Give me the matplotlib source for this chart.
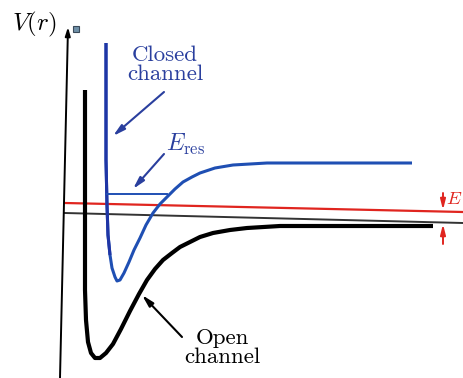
import matplotlib
matplotlib.use("Agg")
import matplotlib.pyplot as plt

# --- Datos (coordenadas en píxeles, y hacia abajo) ---
closed_r = [106, 106, 106, 107, 108, 110, 112, 115, 117, 120, 124, 129, 134, 140,
            146, 153, 160, 167, 175, 183, 192, 200, 215, 233, 267, 320, 412]
closed_v = [43, 100, 160, 205, 235, 255, 268, 277, 281, 280, 273, 262, 250, 238,
            225, 213, 204, 197, 189, 182, 177, 173, 168, 165, 163, 163, 163]

open_r = [85, 85, 85, 86, 88, 91, 95, 100, 106, 113, 121, 130, 139, 147, 155,
          163, 172, 180, 190, 200, 213, 230, 247, 280, 333, 433]
open_v = [90, 200, 290, 320, 342, 353, 358, 358, 353, 344, 329, 311, 294, 280, 269,
          260, 253, 247, 242, 237, 233, 230, 228, 226, 226, 226]

eres_r = [107, 167]
eres_v = [194, 194]

red_r = [65, 463]
red_v = [203, 212]

cero_r = [65, 463]
cero_v = [213, 223]

AZUL = "#1f4fb3"
AZUL_PARED = "#1f35a5"
AZUL_TXT = "#2a3f9e"
ROJO = "#e0251f"

plt.rcParams["mathtext.fontset"] = "cm"

fig = plt.figure(figsize=(4.63, 3.78), dpi=100)
ax = fig.add_axes([0, 0, 1, 1])
ax.set_xlim(0, 463)
ax.set_ylim(378, 0)
ax.axis("off")

# eje vertical con flecha
ax.annotate("", xy=(68, 27), xytext=(60, 378),
            arrowprops=dict(arrowstyle="-|>,head_length=0.5,head_width=0.15",
                            color="black", lw=1.4, shrinkA=0, shrinkB=0))
ax.plot([76], [29], marker="s", ms=5, mfc="#6f90a8", mec="#3a4a5a", mew=0.8)
ax.text(34, 24, r"$V(r)$", fontsize=18, ha="center", va="center")

# líneas horizontales
ax.plot(cero_r, cero_v, color="#333333", lw=1.4)
ax.plot(red_r, red_v, color=ROJO, lw=1.6)

# potenciales
ax.plot(open_r, open_v, color="black", lw=3.0, solid_capstyle="butt",
        solid_joinstyle="round")
ax.plot(closed_r, closed_v, color=AZUL, lw=2.2, solid_capstyle="butt",
        solid_joinstyle="round")
ax.plot(closed_r[:6], closed_v[:6], color=AZUL_PARED, lw=2.2,
        solid_capstyle="butt")
ax.plot(eres_r, eres_v, color=AZUL, lw=1.4)

# textos y flechas
flecha = dict(arrowstyle="-|>,head_length=0.7,head_width=0.18", lw=1.5,
              shrinkA=0, shrinkB=0)
ax.text(165, 65, "Closed\nchannel", color=AZUL_TXT, fontsize=16.5,
        family="cmr10", ha="center", va="center", linespacing=0.95)
ax.annotate("", xy=(113, 136), xytext=(164, 92),
            arrowprops=dict(flecha, color=AZUL_TXT))
ax.text(166, 144, r"$E_{\rm res}$", color=AZUL_TXT, fontsize=17,
        ha="left", va="center")
ax.annotate("", xy=(133, 189), xytext=(164, 154),
            arrowprops=dict(flecha, color=AZUL_TXT))

ax.text(222, 348, "Open\nchannel", color="black", fontsize=16.5,
        family="cmr10", ha="center", va="center", linespacing=0.95)
ax.annotate("", xy=(142, 295), xytext=(182, 337),
            arrowprops=dict(flecha, color="black"))

# flechas rojas (energía)
roja = dict(arrowstyle="-|>,head_length=0.6,head_width=0.15", lw=1.4,
            color=ROJO, shrinkA=0, shrinkB=0)
ax.annotate("", xy=(443, 210), xytext=(443, 193), arrowprops=roja)
ax.annotate("", xy=(443, 224), xytext=(443, 244), arrowprops=roja)
ax.text(446, 199, r"$E$", color=ROJO, fontsize=13.5, ha="left", va="center")

fig.savefig("out.png", dpi=100)
